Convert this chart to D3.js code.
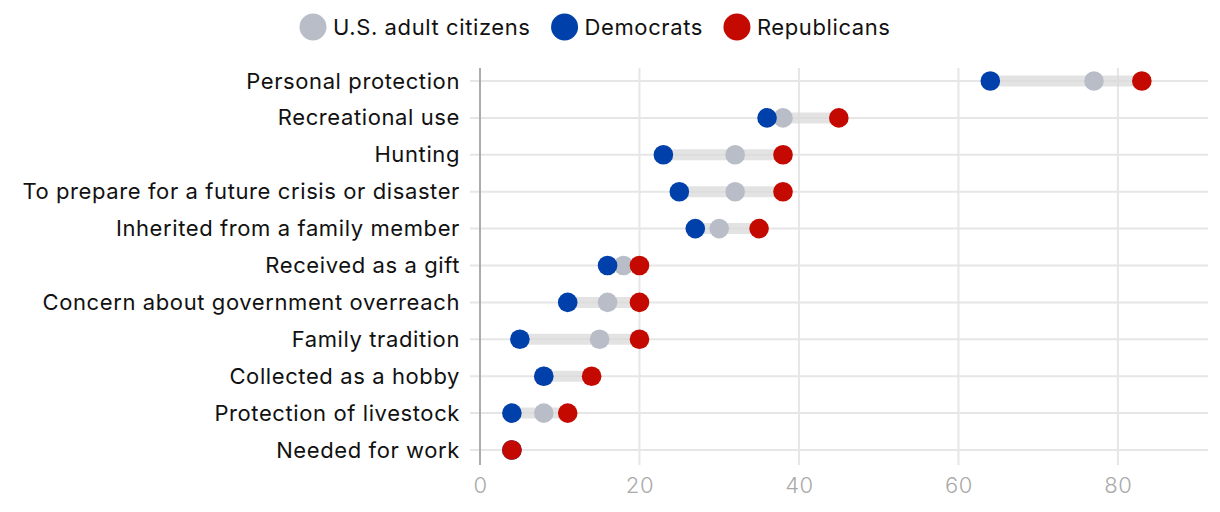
<!DOCTYPE html>
<html>
<head>
<meta charset="utf-8">
<script src="https://cdn.jsdelivr.net/npm/d3@7"></script>
<style>
  html, body { margin: 0; padding: 0; background: #fff; }
  svg { display: block; font-family: Inter, Roboto, sans-serif; }
</style>
</head>
<body>
<svg id="chart" width="1220" height="512"></svg>
<script>
const categories = [
  "Personal protection",
  "Recreational use",
  "Hunting",
  "To prepare for a future crisis or disaster",
  "Inherited from a family member",
  "Received as a gift",
  "Concern about government overreach",
  "Family tradition",
  "Collected as a hobby",
  "Protection of livestock",
  "Needed for work"
];
const usAdults    = [77, 38, 32, 32, 30, 18, 16, 15, 8, 8, 4];
const democrats   = [64, 36, 23, 25, 27, 16, 11, 5, 8, 4, 4];
const republicans = [83, 45, 38, 38, 35, 20, 20, 20, 14, 11, 4];
const xTicks = [0, 20, 40, 60, 80];
const seriesNames = ["U.S. adult citizens", "Democrats", "Republicans"];
const seriesColors = ["#b9bdc7", "#0040ab", "#c40a00"];

const svg = d3.select("#chart");
const x = d3.scaleLinear().domain([0, 91.3]).range([480, 1208]);
const y = d3.scalePoint().domain(categories).range([81, 450]);
const yTop = 68, yBottom = 465;
const FONT = "Inter, Roboto, sans-serif";
const LS = "0.6px";

svg.append("g").selectAll("line").data(xTicks.filter(t => t > 0)).join("line")
  .attr("x1", d => x(d)).attr("x2", d => x(d))
  .attr("y1", yTop).attr("y2", yBottom)
  .attr("stroke", "#e6e6e6").attr("stroke-width", 2);

svg.append("g").selectAll("line").data(categories).join("line")
  .attr("x1", 470).attr("x2", 1208)
  .attr("y1", d => y(d)).attr("y2", d => y(d))
  .attr("stroke", "#e6e6e6").attr("stroke-width", 2);

svg.append("line").attr("x1", x(0)).attr("x2", x(0)).attr("y1", yTop).attr("y2", yBottom)
  .attr("stroke", "#acacac").attr("stroke-width", 2);

const xAxis = d3.axisBottom(x).tickValues(xTicks).tickSize(0).tickPadding(0);
const gx = svg.append("g").attr("transform", `translate(0,${yBottom + 12})`).call(xAxis);
gx.select(".domain").remove();
gx.selectAll("text").attr("fill", "#aaaaaa").attr("font-size", 22).attr("dy", "0.71em")
  .style("font-family", FONT).style("font-weight", 300).style("letter-spacing", LS);

const yAxis = d3.axisLeft(y).tickSize(0).tickPadding(0);
const gy = svg.append("g").attr("transform", `translate(460,0)`).call(yAxis);
gy.select(".domain").remove();
gy.selectAll("text").attr("fill", "#111").attr("font-size", 22)
  .style("font-family", FONT).style("font-weight", 400).style("letter-spacing", LS);

const rows = categories.map((c, i) => ({
  cat: c, vals: [usAdults[i], democrats[i], republicans[i]]
}));

svg.append("g").selectAll("line").data(rows).join("line")
  .attr("x1", d => x(d3.min(d.vals))).attr("x2", d => x(d3.max(d.vals)))
  .attr("y1", d => y(d.cat)).attr("y2", d => y(d.cat))
  .attr("stroke", "#d9d9d9").attr("stroke-opacity", 0.75).attr("stroke-width", 11);

seriesNames.forEach((s, si) => {
  svg.append("g").selectAll("circle").data(rows).join("circle")
    .attr("cx", d => x(d.vals[si])).attr("cy", d => y(d.cat))
    .attr("r", 9.8).attr("fill", seriesColors[si]);
});

const leg = svg.append("g");
let lx = 313;
seriesNames.forEach((s, i) => {
  leg.append("circle").attr("cx", lx).attr("cy", 27).attr("r", 13.5).attr("fill", seriesColors[i]);
  const t = leg.append("text").attr("x", lx + 20).attr("y", 27).attr("dy", "0.35em")
    .attr("font-size", 22).attr("fill", "#111").style("font-family", FONT)
    .style("letter-spacing", LS).text(s);
  lx = lx + 20 + t.node().getComputedTextLength() + 34;
});
</script>
</body>
</html>
